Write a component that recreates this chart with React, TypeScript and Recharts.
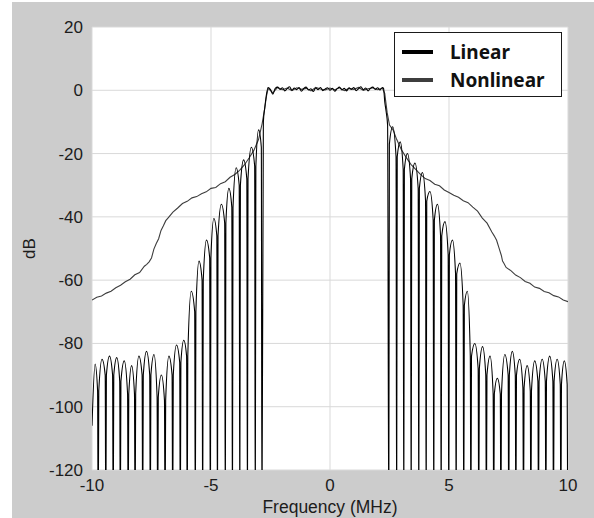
import React from 'react';
import { LineChart, Line, XAxis, YAxis, CartesianGrid, Legend } from 'recharts';

const xTicks = [-10, -5, 0, 5, 10];
const yTicks = [-120, -100, -80, -60, -40, -20, 0, 20];

// Linear PA output: sidelobe nulls (MHz) below the band, lobe peak before each null, shoulder level at each null (dB)
const lowerNulls = [-9.74, -9.42, -9.11, -8.81, -8.48, -8.19, -7.87, -7.55, -7.24, -6.93, -6.61, -6.29, -6.0, -5.66, -5.35, -5.03, -4.73, -4.4, -4.1, -3.79, -3.47, -3.14, -2.86];
const lowerPeaks = [-86.5, -85, -84, -84.5, -85.5, -87, -84, -82.5, -83.5, -90, -84, -80.5, -79, -63.5, -54, -47.3, -40.5, -36, -31, -24.5, -22, -18, -12.5];
const lowerKnees = [-95, -90, -90, -92, -96, -96, -90, -90, -97, -98, -90, -86, -84, -70, -60, -53, -46, -42, -37, -30, -28, -24, -18];
const linStartDb = -106;

// steep skirts either side of the passband
const lowerEdgeFreq = [-2.8, -2.74, -2.68];
const lowerEdgeDb = [-10, -5.5, -1.8];
const upperEdgeFreq = [2.3, 2.36, 2.42];
const upperEdgeDb = [-3.6, -6.8, -11];

// passband ripple
const bandFreq = [-2.6, -2.5, -2.4, -2.3, -2.2, -2.1, -2.0, -1.9, -1.8, -1.7, -1.6, -1.5, -1.4, -1.3, -1.2, -1.1, -1.0, -0.9, -0.8, -0.7, -0.6, -0.5, -0.4, -0.3, -0.2, -0.1, 0.0, 0.1, 0.2, 0.3, 0.4, 0.5, 0.6, 0.7, 0.8, 0.9, 1.0, 1.1, 1.2, 1.3, 1.4, 1.5, 1.6, 1.7, 1.8, 1.9, 2.0, 2.1, 2.2, 2.25];
const bandLinear = [0.9, 0.2, -1.2, 0.6, 1.0, 0.3, 0.8, -0.2, 0.5, 1.1, 0.0, 0.7, 0.2, 0.9, -0.3, 0.6, 1.0, 0.1, 0.5, -0.4, 0.7, 0.2, 0.9, -0.1, 0.4, 0.8, 0.0, 0.6, -0.3, 0.5, 1.0, 0.1, 0.6, -0.2, 0.8, 0.3, 0.9, -0.1, 0.5, 1.1, 0.2, 0.7, -0.2, 0.6, 1.0, 0.3, 0.8, 0.1, 0.9, 0.6];

// sidelobe nulls above the band, lobe peak after each null, shoulder level at each null
const upperNulls = [2.47, 2.8, 3.1, 3.41, 3.73, 4.04, 4.36, 4.67, 4.99, 5.3, 5.62, 5.92, 6.25, 6.57, 6.88, 7.18, 7.51, 7.81, 8.13, 8.44, 8.76, 9.07, 9.39, 9.7, 9.99];
const upperPeaks = [-11.5, -16.3, -20, -23, -26, -32, -36, -41.5, -47.3, -54.6, -63.5, -80, -81, -84, -91, -83.5, -82.5, -85, -87, -85.5, -85, -84, -85, -85.5];
const upperKnees = [-17, -21, -25, -28, -31, -35, -41, -46, -52, -58, -68, -84, -88, -90, -96, -96, -90, -90, -94, -95, -92, -92, -92, -93, -93];

// Nonlinear PA output (spectral regrowth)
const nlLowerFreq = [-10, -9.8, -9.6, -9.4, -9.2, -9.0, -8.8, -8.6, -8.4, -8.2, -8.0, -7.8, -7.7, -7.6, -7.5, -7.4, -7.3, -7.2, -7.1, -7.0, -6.9, -6.8, -6.6, -6.4, -6.2, -6.0, -5.8, -5.6, -5.4, -5.2, -5.0, -4.8, -4.6, -4.4, -4.2, -4.0, -3.8, -3.6, -3.4, -3.2, -3.0, -2.85, -2.75, -2.66];
const nlLowerDb = [-66.3, -65.4, -65.0, -64.1, -63.5, -62.4, -61.6, -60.5, -59.7, -58.3, -57.6, -55.6, -55.0, -54.2, -53.0, -50.2, -48.4, -46.9, -44.3, -42.8, -41.2, -40.3, -38.5, -37.2, -35.8, -35.1, -34.0, -33.6, -32.7, -32.1, -31.0, -30.7, -29.5, -28.9, -27.5, -26.6, -25.3, -23.6, -21.4, -19.0, -15.5, -10.5, -6.0, -1.5];
const nlBandFreq = [-2.6, -2.4, -2.2, -2.0, -1.8, -1.6, -1.4, -1.2, -1.0, -0.8, -0.6, -0.4, -0.2, 0.0, 0.2, 0.4, 0.6, 0.8, 1.0, 1.2, 1.4, 1.6, 1.8, 2.0, 2.2];
const nlBandDb = [0.6, -0.8, 0.9, 0.2, 0.7, -0.1, 0.8, 0.3, 0.6, -0.2, 0.9, 0.4, 0.1, 0.7, 0.2, 0.8, -0.1, 0.6, 0.3, 0.9, 0.0, 0.5, 0.8, 0.2, 0.7];
const nlUpperFreq = [2.3, 2.4, 2.5, 2.65, 2.8, 3.0, 3.2, 3.4, 3.6, 3.8, 4.0, 4.2, 4.4, 4.6, 4.8, 5.0, 5.2, 5.4, 5.6, 5.8, 6.0, 6.2, 6.4, 6.6, 6.8, 6.9, 7.0, 7.1, 7.2, 7.25, 7.3, 7.4, 7.6, 7.8, 8.0, 8.2, 8.4, 8.6, 8.8, 9.0, 9.2, 9.4, 9.6, 9.8, 10];
const nlUpperDb = [-1.0, -7.0, -11.0, -12.5, -15.5, -18.8, -21.2, -23.4, -25.0, -26.6, -27.9, -28.5, -29.7, -30.2, -31.5, -32.3, -33.2, -33.8, -34.9, -35.5, -36.9, -38.2, -40.4, -42.0, -44.8, -46.0, -47.4, -49.8, -52.2, -54.0, -54.6, -56.0, -57.0, -58.4, -59.2, -60.4, -61.0, -62.2, -62.6, -63.6, -64.0, -64.9, -65.3, -66.3, -66.8];

const NULL_DB = -140; // nulls fall well below the axis floor
const KNEE = 0.025; // MHz between a null and its shoulder

type Pt = { f: number; db: number };

function buildLinear(): Pt[] {
  const rows: Pt[] = [{ f: -10, db: linStartDb }];
  lowerNulls.forEach((n, i) => {
    const prev = i === 0 ? -10 : lowerNulls[i - 1];
    rows.push({ f: (prev + n) / 2, db: lowerPeaks[i] });
    rows.push({ f: n - KNEE, db: lowerKnees[i] });
    rows.push({ f: n, db: NULL_DB });
    if (i < lowerNulls.length - 1) rows.push({ f: n + KNEE, db: lowerKnees[i] });
  });
  lowerEdgeFreq.forEach((f, i) => rows.push({ f, db: lowerEdgeDb[i] }));
  bandFreq.forEach((f, i) => rows.push({ f, db: bandLinear[i] }));
  upperEdgeFreq.forEach((f, i) => rows.push({ f, db: upperEdgeDb[i] }));
  upperNulls.forEach((n, i) => {
    if (i > 0) rows.push({ f: n - KNEE, db: upperKnees[i] });
    rows.push({ f: n, db: NULL_DB });
    if (i < upperNulls.length - 1) {
      rows.push({ f: n + KNEE, db: upperKnees[i] });
      rows.push({ f: (n + upperNulls[i + 1]) / 2, db: upperPeaks[i] });
    }
  });
  return rows;
}

function buildNonlinear(): Pt[] {
  const rows: Pt[] = [];
  nlLowerFreq.forEach((f, i) => rows.push({ f, db: nlLowerDb[i] }));
  nlBandFreq.forEach((f, i) => rows.push({ f, db: nlBandDb[i] }));
  nlUpperFreq.forEach((f, i) => rows.push({ f, db: nlUpperDb[i] }));
  return rows;
}

const linearData = buildLinear();
const nonlinearData = buildNonlinear();

const tickStyle = { fontFamily: '"Liberation Sans", Arial, sans-serif', fontSize: 17, fill: '#1c1c1c' };
const legendOrder = ['Linear', 'Nonlinear'];

const LegendBox = (props: any) => {
  const items = [...(props.payload || [])].sort(
    (a: any, b: any) => legendOrder.indexOf(a.value) - legendOrder.indexOf(b.value)
  );
  return (
    <div
      style={{
        width: 168,
        height: 65,
        boxSizing: 'border-box',
        border: '1px solid #1a1a1a',
        background: '#fff',
        paddingTop: 5,
        fontFamily: '"Noto Sans", "Open Sans", sans-serif',
        fontWeight: 700,
        fontSize: 19,
        color: '#111',
      }}
    >
      {items.map((item: any) => (
        <div key={item.value} style={{ display: 'flex', alignItems: 'center', height: 28 }}>
          <span style={{ display: 'inline-block', marginLeft: 7, width: 31, height: 4, background: item.color }} />
          <span style={{ marginLeft: 17, lineHeight: '28px' }}>{item.value}</span>
        </div>
      ))}
    </div>
  );
};

const YTitle = (props: any) => {
  const vb = props.viewBox || { x: 0, y: 25, width: 80, height: 443 };
  const cx = 17;
  const cy = vb.y + vb.height / 2;
  return (
    <text
      x={cx}
      y={cy}
      transform={`rotate(-90, ${cx}, ${cy})`}
      textAnchor="middle"
      dominantBaseline="central"
      style={{ ...tickStyle }}
    >
      dB
    </text>
  );
};

export default function App() {
  return (
    <div style={{ position: 'absolute', left: 12, top: 2, width: 582, height: 516, background: '#cccccc' }}>
      <LineChart width={582} height={516} margin={{ top: 25, right: 26, bottom: 0, left: 0 }}>
        <CartesianGrid stroke="#d9d9d9" fill="#ffffff" fillOpacity={1} />
        <XAxis
          type="number"
          dataKey="f"
          domain={[-10, 10]}
          ticks={xTicks}
          allowDataOverflow
          axisLine={false}
          tickLine={false}
          tickSize={6}
          tickMargin={3}
          height={48}
          tick={tickStyle}
          label={{
            value: 'Frequency (MHz)',
            position: 'insideBottom',
            offset: 5,
            style: { ...tickStyle, fontSize: 17.5 },
          }}
        />
        <YAxis
          type="number"
          domain={[-120, 20]}
          ticks={yTicks}
          allowDataOverflow
          axisLine={false}
          tickLine={false}
          tickSize={6}
          tickMargin={3}
          width={80}
          tick={tickStyle}
          label={{ content: YTitle }}
        />
        <Legend
          layout="vertical"
          align="center"
          verticalAlign="middle"
          content={LegendBox}
          wrapperStyle={{ left: 382, top: 30, right: 'auto', bottom: 'auto', width: 168, height: 65 }}
        />
        <Line
          data={nonlinearData}
          dataKey="db"
          name="Nonlinear"
          type="linear"
          stroke="#3d3d3d"
          strokeWidth={1.1}
          dot={false}
          isAnimationActive={false}
        />
        <Line
          data={linearData}
          dataKey="db"
          name="Linear"
          type="monotone"
          stroke="#000000"
          strokeWidth={1.1}
          dot={false}
          isAnimationActive={false}
        />
      </LineChart>
    </div>
  );
}
